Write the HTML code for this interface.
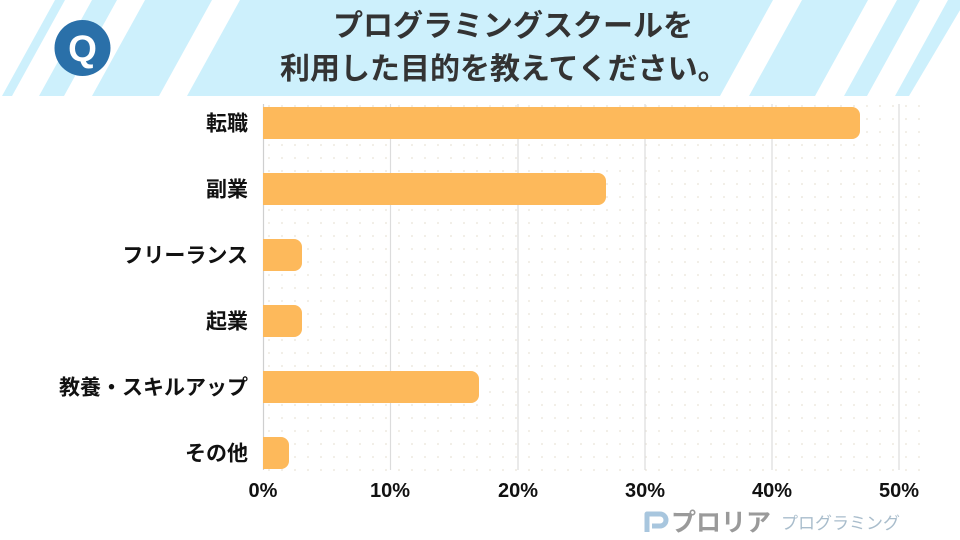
<!DOCTYPE html>
<html><head><meta charset="utf-8"><style>
html,body{margin:0;padding:0;background:#fff;}
svg{display:block;}
text{font-family:"Liberation Sans","Noto Sans CJK JP",sans-serif;}
</style></head><body>
<svg width="960" height="540" viewBox="0 0 960 540" xmlns="http://www.w3.org/2000/svg">
<defs>
<pattern id="dots" x="263" y="100" width="13" height="13" patternUnits="userSpaceOnUse">
<circle cx="6" cy="6" r="1.1" fill="#f1ede5"/>
</pattern>
</defs>
<rect width="960" height="540" fill="#fff"/>
<!-- header -->
<rect x="0" y="0" width="960" height="96" fill="#cdf0fc"/>
<g fill="#fff">
<polygon points="0,0 55,0 2,96 0,96"/>
<polygon points="65,0 92,0 39,96 12,96"/>
<polygon points="117,0 145,0 92,96 64,96"/>
<polygon points="212,0 240,0 187,96 159,96"/>
<polygon points="773,0 802,0 749,96 720,96"/>
<polygon points="868,0 897,0 844,96 815,96"/>
<polygon points="920,0 948,0 895,96 867,96"/>
<polygon points="966,0 980,0 980,96 909,96"/>
</g>
<circle cx="82.5" cy="48" r="28" fill="#2a70a9"/>
<text x="82.5" y="61" text-anchor="middle" font-size="37" font-weight="bold" fill="#fff">Q</text>
<text x="333" y="36" font-size="30" font-weight="bold" fill="#333">プログラミングスクールを</text>
<text x="280" y="79" font-size="30" font-weight="bold" fill="#333">利用した目的を教えてください。</text>
<!-- plot bg -->
<rect x="263" y="100" width="667" height="375" fill="url(#dots)"/>
<!-- grid -->
<g stroke="#dcdcdc" stroke-width="1.2">
<line x1="390.5" y1="104" x2="390.5" y2="470"/>
<line x1="518" y1="104" x2="518" y2="470"/>
<line x1="645" y1="104" x2="645" y2="470"/>
<line x1="772" y1="104" x2="772" y2="470"/>
<line x1="899" y1="104" x2="899" y2="470"/>
<line x1="263.5" y1="104" x2="263.5" y2="470" stroke="#cfcfcf"/>
</g>
<!-- bars -->
<g fill="#fdb95b">
<path d="M263,107 H852 a8,8 0 0 1 8,8 V131 a8,8 0 0 1 -8,8 H263 Z"/>
<path d="M263,173 H598 a8,8 0 0 1 8,8 V197 a8,8 0 0 1 -8,8 H263 Z"/>
<path d="M263,239 H294 a8,8 0 0 1 8,8 V263 a8,8 0 0 1 -8,8 H263 Z"/>
<path d="M263,305 H294 a8,8 0 0 1 8,8 V329 a8,8 0 0 1 -8,8 H263 Z"/>
<path d="M263,371 H471 a8,8 0 0 1 8,8 V395 a8,8 0 0 1 -8,8 H263 Z"/>
<path d="M263,437 H281 a8,8 0 0 1 8,8 V461 a8,8 0 0 1 -8,8 H263 Z"/>
</g>
<!-- category labels -->
<g font-size="21" font-weight="bold" fill="#111" text-anchor="end">
<text x="248" y="130.5">転職</text>
<text x="248" y="196.5">副業</text>
<text x="248" y="262.5">フリーランス</text>
<text x="248" y="328.5">起業</text>
<text x="248" y="394.5">教養・スキルアップ</text>
<text x="248" y="460.5">その他</text>
</g>
<!-- tick labels -->
<g font-size="20" font-weight="bold" fill="#111" text-anchor="middle">
<text x="263" y="497">0%</text>
<text x="390" y="497">10%</text>
<text x="518" y="497">20%</text>
<text x="645" y="497">30%</text>
<text x="772" y="497">40%</text>
<text x="899" y="497">50%</text>
</g>
<!-- watermark -->
<path d="M647,532 V514 H660 a6,6 0 0 1 0,12 H652" fill="none" stroke="#a8c6de" stroke-width="5" stroke-linejoin="round"/>
<text x="671" y="531" font-size="25" font-weight="bold" fill="#9a9a9a">プロリア</text>
<text x="781" y="529" font-size="17" fill="#a9bdcc">プログラミング</text>
</svg>
</body></html>
